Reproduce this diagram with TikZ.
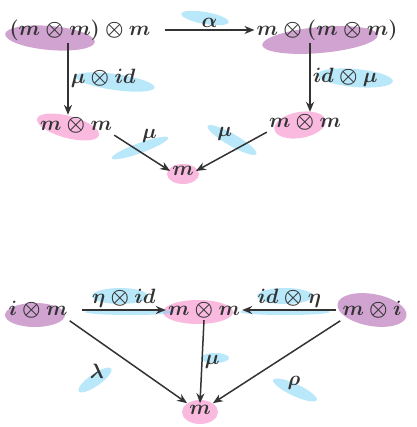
\documentclass[tikz,border=0pt]{standalone}
\usetikzlibrary{arrows.meta}
\begin{document}
\begin{tikzpicture}[x=1pt,y=-1pt,
  obj/.style={font=\fontsize{22}{26}\selectfont\boldmath, text=black!80, inner sep=2pt},
  lab/.style={font=\fontsize{20}{24}\selectfont\boldmath, text=black!80, inner sep=2pt},
  arr/.style={draw=black!80, line width=1.5pt, -{Stealth[length=10pt,width=8pt]}},
  purp/.style={fill=violet!60!white, fill opacity=0.6, draw=none},
  pnk/.style={fill=magenta!45!white, fill opacity=0.6, draw=none},
  blu/.style={fill=cyan!50!white, fill opacity=0.55, draw=none}]
\useasboundingbox (0,0) rectangle (416,427);
% watercolour smudges
\fill[purp,rotate around={-5:(50,38)}] (50,38) ellipse (45 and 12);
\fill[purp,rotate around={5:(320,40)}] (320,40) ellipse (58 and 13);
\fill[pnk,rotate around={-15:(68,127)}] (68,127) ellipse (32 and 11);
\fill[pnk,rotate around={10:(300,125)}] (300,125) ellipse (26 and 13);
\fill[pnk] (183,174) ellipse (16 and 10);
\fill[blu,rotate around={-10:(205,18)}] (205,18) ellipse (24 and 6);
\fill[blu,rotate around={-8:(115,82)}] (115,82) ellipse (40 and 8);
\fill[blu,rotate around={-5:(355,78)}] (355,78) ellipse (38 and 9);
\fill[blu,rotate around={20:(140,148)}] (140,148) ellipse (30 and 5);
\fill[blu,rotate around={-30:(232,140)}] (232,140) ellipse (28 and 6);
\fill[purp] (35,315) ellipse (30 and 12);
\fill[pnk] (198,312) ellipse (35 and 12);
\fill[purp,rotate around={-10:(372,310)}] (372,310) ellipse (35 and 16);
\fill[pnk] (200,412) ellipse (18 and 12);
\fill[blu] (120,296) ellipse (28 and 8);
\fill[blu] (285,296) ellipse (28 and 8);
\fill[blu] (130,312) ellipse (45 and 3);
\fill[blu] (285,312) ellipse (45 and 3);
\fill[blu,rotate around={35:(95,380)}] (95,380) ellipse (20 and 6);
\fill[blu,rotate around={-25:(295,390)}] (295,390) ellipse (24 and 6);
\fill[blu] (215,358) ellipse (14 and 5);
% top diagram
\node[obj] (A) at (80,30) {$(m\otimes m)\otimes m$};
\node[obj] (B) at (327,30) {$m\otimes(m\otimes m)$};
\node[obj] (C) at (76,125) {$m\otimes m$};
\node[obj] (D) at (305,122) {$m\otimes m$};
\node[obj] (E) at (183,171) {$m$};
\draw[arr] (A.east) ++(12,0) coordinate (a1) -- (a1 -| B.west) node[midway,above,lab] {$\alpha$};
\draw[arr] (A.south -| 68,0) -- (C.north -| 68,0) node[midway,right,lab] {$\mu\otimes id$};
\draw[arr] (B.south -| 310,0) -- (D.north -| 310,0) node[midway,right,lab] {$id\otimes\mu$};
\draw[arr] (C.south east) -- (E.west) node[pos=0.45,above right,yshift=6pt,lab] {$\mu$};
\draw[arr] (D.south west) -- (E.east) node[pos=0.45,above left,yshift=6pt,lab] {$\mu$};
% bottom diagram
\node[obj] (F) at (38,310) {$i\otimes m$};
\node[obj] (G) at (204,310) {$m\otimes m$};
\node[obj] (H) at (372,310) {$m\otimes i$};
\node[obj] (K) at (200,410) {$m$};
\draw[arr] (F.east) ++(12,0) coordinate (f1) -- (G.west) node[midway,above,lab] {$\eta\otimes id$};
\draw[arr] (H.west) ++(-4,0) coordinate (h1) -- (G.east) node[midway,above,lab] {$id\otimes\eta$};
\draw[arr] (G.south) -- (K.north) node[midway,right,lab] {$\mu$};
\draw[arr] (F.south east) -- (K.north west) node[pos=0.4,below left,xshift=-10pt,yshift=-8pt,lab] {$\lambda$};
\draw[arr] (H.south west) -- (K.north east) node[pos=0.45,below right,xshift=2pt,yshift=-16pt,lab] {$\rho$};
\end{tikzpicture}
\end{document}
